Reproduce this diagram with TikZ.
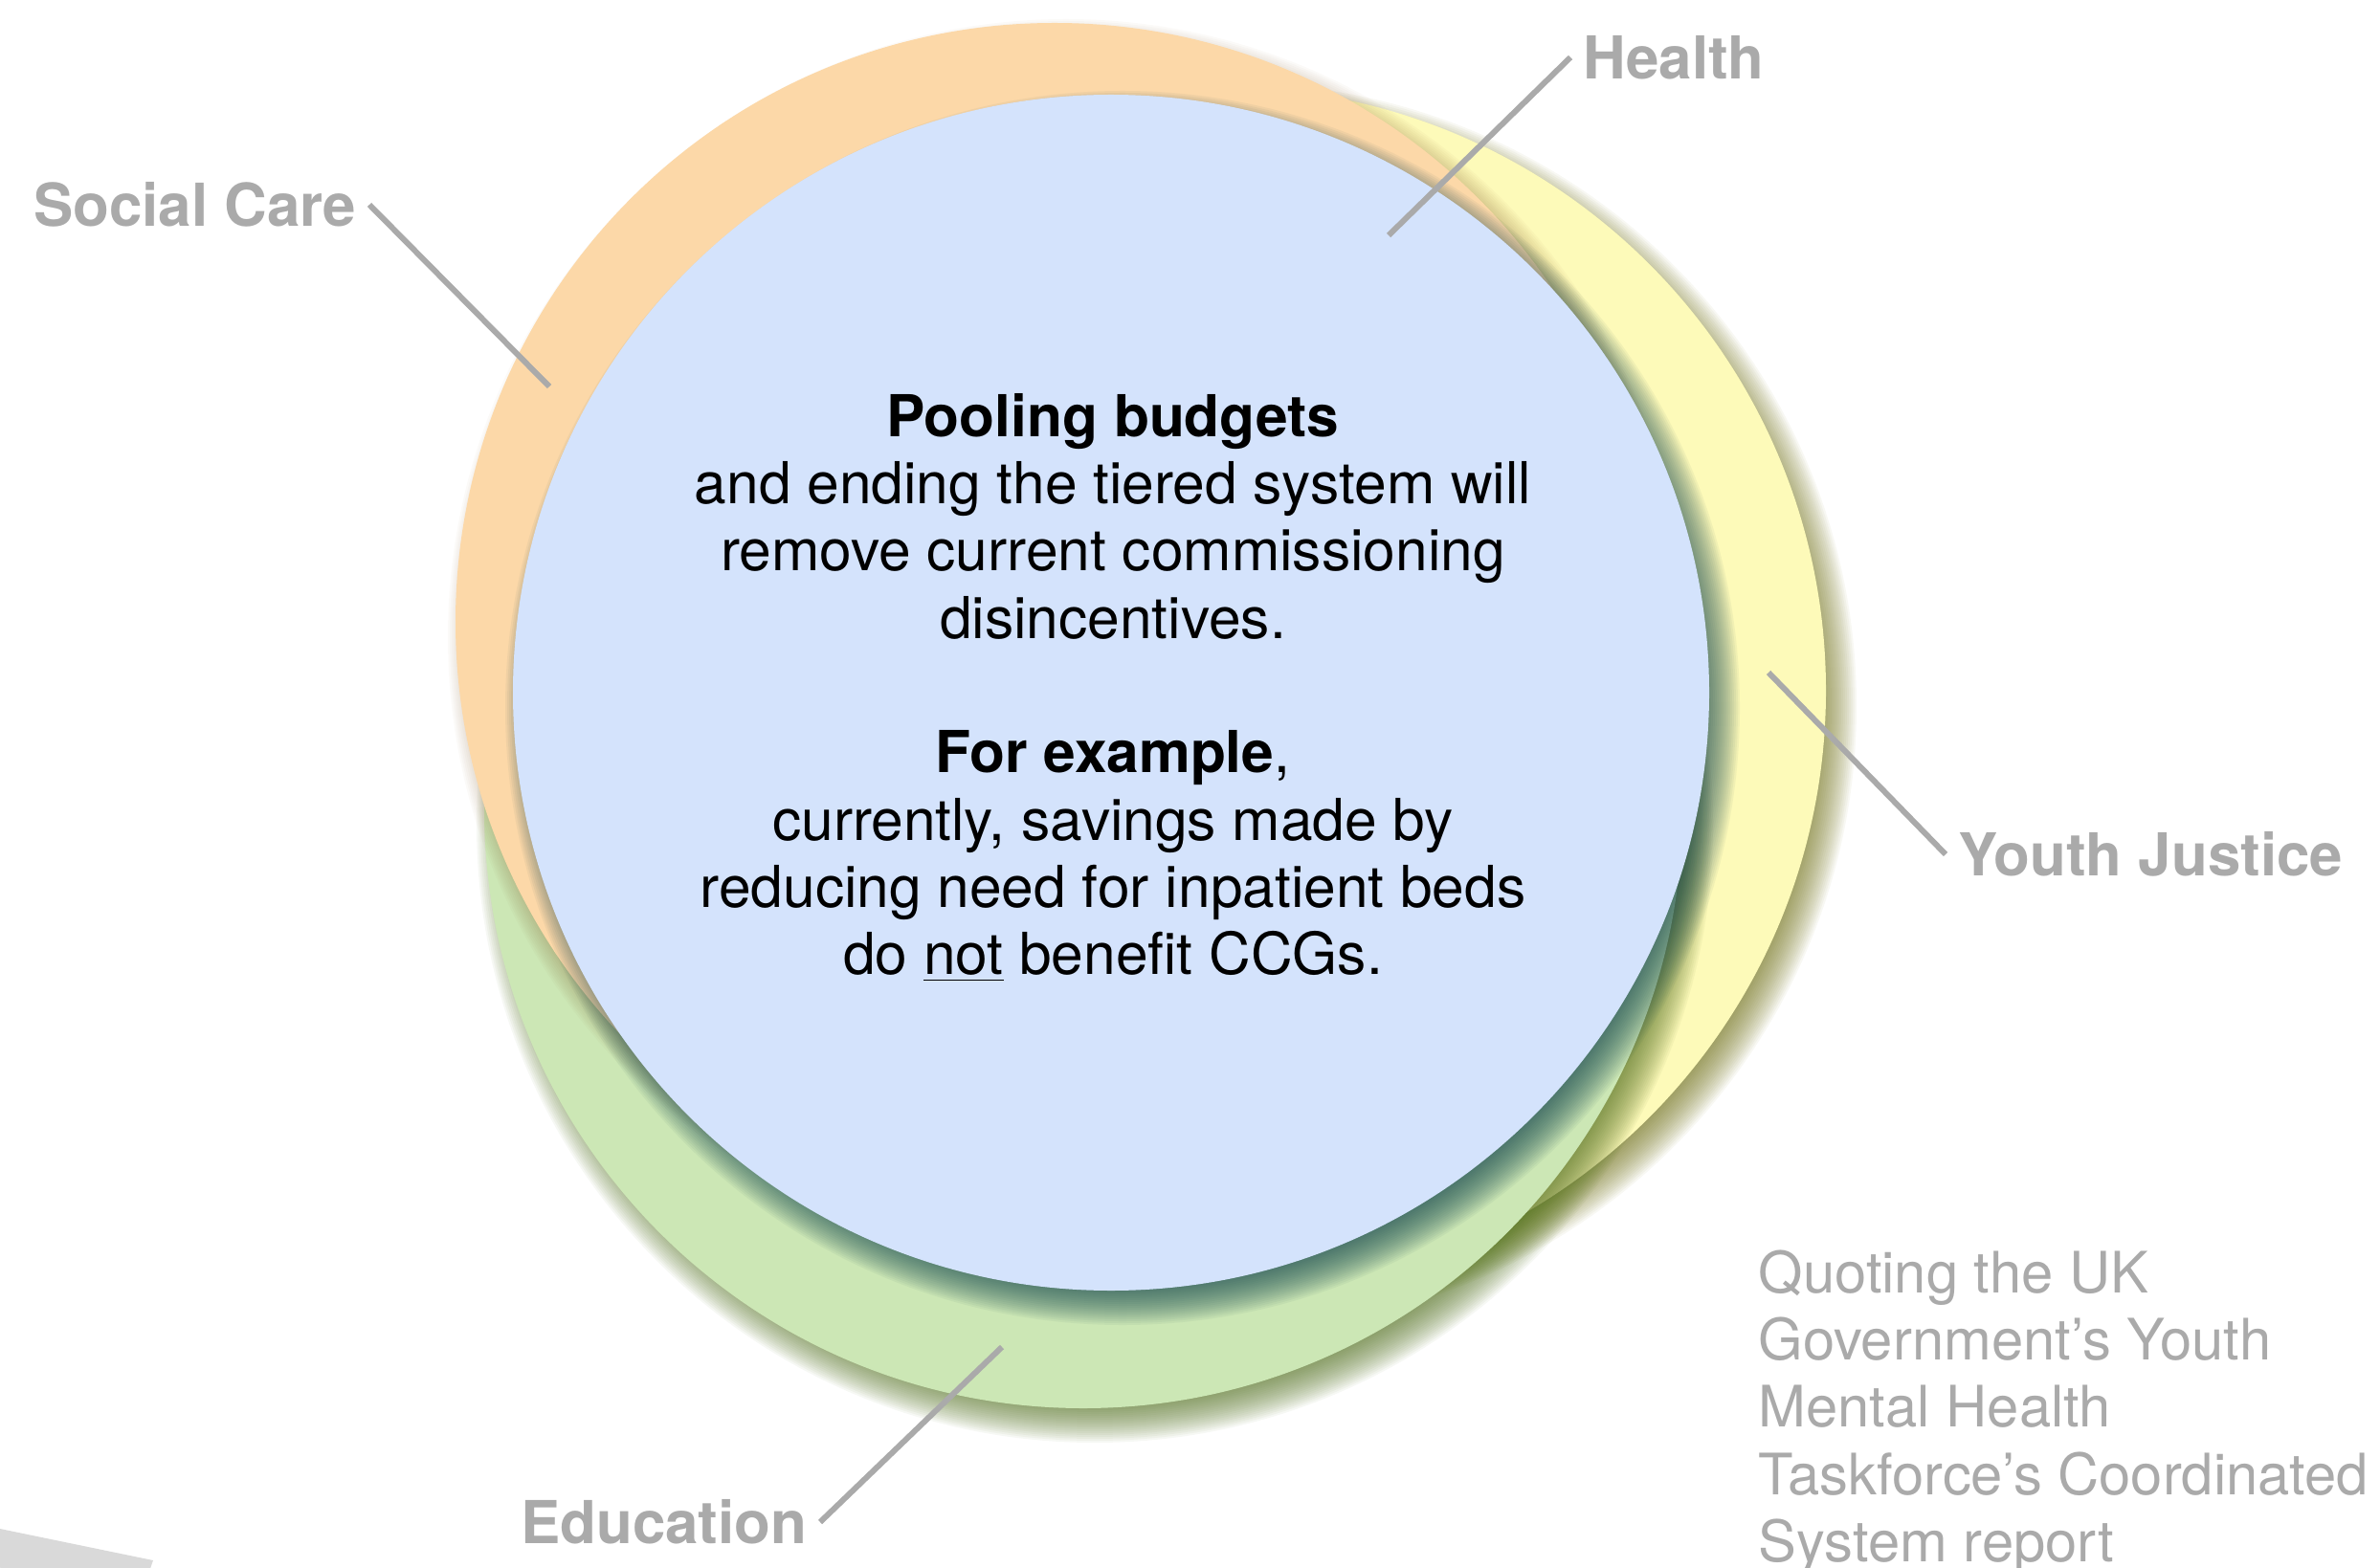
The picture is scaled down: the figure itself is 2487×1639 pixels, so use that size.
\documentclass[tikz,border=0pt]{standalone}
\usepackage{fontspec}
\setmainfont{TeX Gyre Heros}

\definecolor{carefill}{HTML}{FCD8A8}
\definecolor{healthfill}{HTML}{D4E3FC}
\definecolor{justicefill}{HTML}{FDFAB9}
\definecolor{schoolfill}{HTML}{CCE7B5}
\definecolor{careshade}{HTML}{825A28}
\definecolor{healthshade}{HTML}{144650}
\definecolor{justiceshade}{HTML}{6E6E14}
\definecolor{schoolshade}{HTML}{506E1E}
\definecolor{softgray}{HTML}{AAAAAA}
\definecolor{taggray}{HTML}{D9D9D9}

\begin{document}
\begin{tikzpicture}[x=0.1mm,y=-0.1mm,
  area/.style={font=\fontsize{17.6}{21}\selectfont\bfseries,text=softgray,inner sep=1.3mm},
  pointer/.style={draw=softgray,line width=0.6mm},
  body/.style={font=\fontsize{17.2}{20}\selectfont,align=center,inner sep=0pt},
  source/.style={font=\fontsize{17}{20}\selectfont,text=softgray,align=left,inner sep=0pt}]
\useasboundingbox (0,0) rectangle (2487,1639);
\clip (0,0) rectangle (2487,1639);

% youth justice
\foreach \k in {1,...,20} \fill[justiceshade,opacity=.05] (1289,738) circle [radius={653-2*\k}];
\fill[justicefill] (1277,722) circle [radius=631];
% education
\foreach \k in {1,...,20} \fill[schoolshade,opacity=.05] (1144,862) circle [radius={648-2*\k}];
\fill[schoolfill] (1132,846) circle [radius=626];
% social care
\foreach \k in {1,...,20} \fill[careshade,opacity=.03] (1114,666) circle [radius={648-2*\k}];
\fill[carefill] (1102,650) circle [radius=626];
% health
\foreach \k in {1,...,20} \fill[healthshade,opacity=.05] (1173,740) circle [radius={647-2*\k}];
\fill[healthfill] (1161,724) circle [radius=625];

\node[body] (pitch) at (1163,719) {\textbf{Pooling budgets}\\ and ending the tiered system will\\ remove current commissioning\\ disincentives.\\[20pt] \textbf{For example},\\ currently, savings made by\\ reducing need for inpatient beds\\ do \underline{not} benefit CCGs.};

\node[area,anchor=east] (socialcare) at (386,214) {Social Care};
\node[area,anchor=west] (health) at (1641,60) {Health};
\node[area,anchor=west] (youthjustice) at (2033,893) {Youth Justice};
\node[area,anchor=east] (education) at (857,1591) {Education};

\coordinate (socialcare-in) at (574,404);
\coordinate (health-in) at (1451,246);
\coordinate (youthjustice-in) at (1848,703);
\coordinate (education-in) at (1047,1408);

\draw[pointer] (socialcare.east) -- (socialcare-in);
\draw[pointer] (health.west) -- (health-in);
\draw[pointer] (youthjustice.west) -- (youthjustice-in);
\draw[pointer] (education.east) -- (education-in);

\node[source,anchor=north west] (quote) at (1837,1306) {Quoting the UK\\ Government's Youth\\ Mental Health\\ Taskforce's Coordinated\\ System report};

% cut-off tag, bottom left
\fill[taggray] (0,1598) -- (160,1631) -- (150,1660) -- (0,1660) -- cycle;
\node[font=\fontsize{17.6}{21}\selectfont\bfseries,text=white,inner sep=0pt,rotate=-11.5,anchor=north west] (tag) at (-20,1622) {ord};
\end{tikzpicture}
\end{document}
